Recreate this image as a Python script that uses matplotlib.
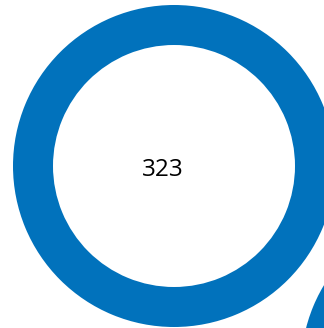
import matplotlib.pyplot as plt

# Donut tiles: one value per ring, shown as a full ring with the count in the middle
counts = [323, 323]
labels = ["323", ""]
ring_color = "#0172BC"

centers = [(174, 166), (462, 368)]
outer_r = 161
ring_w = 40

fig = plt.figure(figsize=(3.24, 3.28), dpi=100)
ax = fig.add_axes([0, 0, 1, 1], frameon=False)

for value, label, c in zip(counts, labels, centers):
    ax.pie([value], colors=[ring_color], radius=outer_r, center=c,
           startangle=90, wedgeprops=dict(width=ring_w, linewidth=0))
    if label:
        ax.text(c[0] - 11, c[1] + 4, label, ha="center", va="center",
                fontsize=17.5, family=["Open Sans", "DejaVu Sans"], color="black")

ax.set_xlim(0, 324)
ax.set_ylim(328, 0)
ax.set_aspect("equal")
ax.set_xticks([])
ax.set_yticks([])

fig.savefig("out.png", dpi=100)
